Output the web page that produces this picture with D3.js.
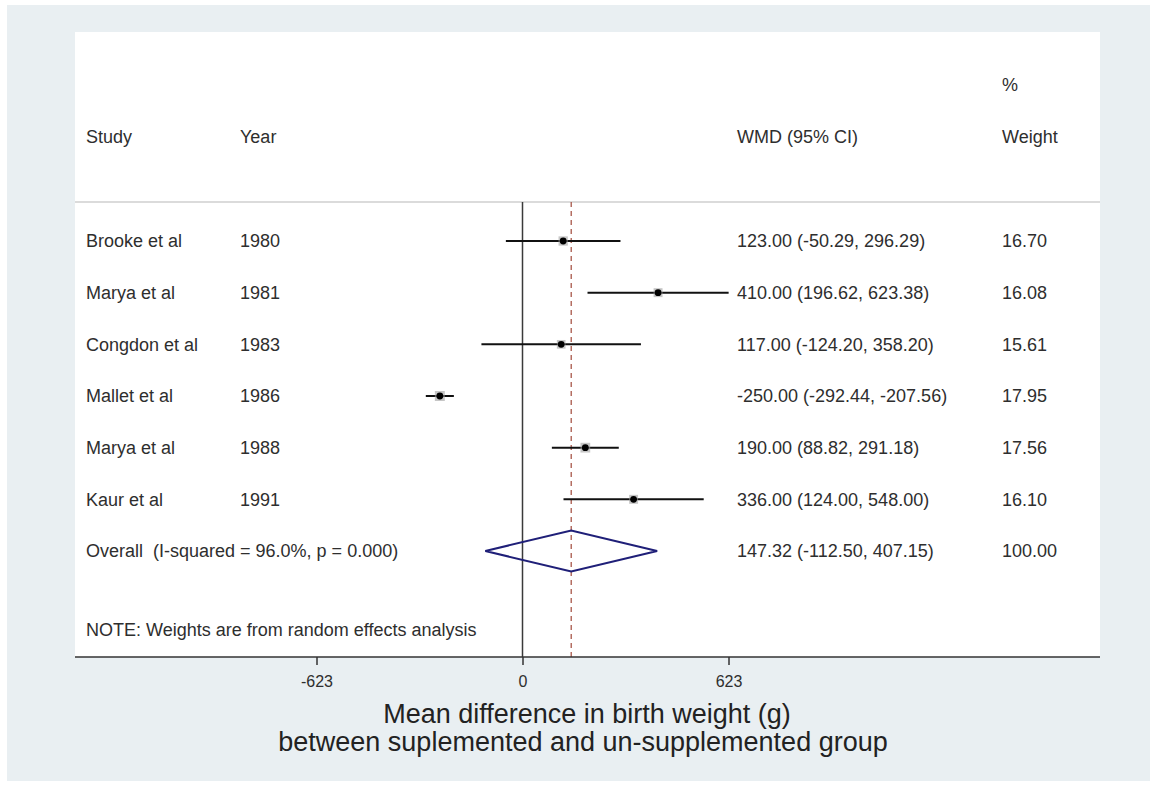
<!DOCTYPE html>
<html>
<head>
<meta charset="utf-8">
<script src="https://cdn.jsdelivr.net/npm/d3@7"></script>
<style>
  body { margin: 0; background: #ffffff; }
  text { font-family: "Liberation Sans", Arial, sans-serif; fill: #2e2e2e; white-space: pre; }
</style>
</head>
<body>
<svg id="forest"></svg>
<script>
// study data
var studies = ["Brooke et al", "Marya et al", "Congdon et al", "Mallet et al", "Marya et al", "Kaur et al"]
var years = ["1980", "1981", "1983", "1986", "1988", "1991"]
var wmd = [123.00, 410.00, 117.00, -250.00, 190.00, 336.00]
var lower = [-50.29, 196.62, -124.20, -292.44, 88.82, 124.00]
var upper = [296.29, 623.38, 358.20, -207.56, 291.18, 548.00]
var weights = [16.70, 16.08, 15.61, 17.95, 17.56, 16.10]

var overallLabel = "Overall  (I-squared = 96.0%, p = 0.000)"
var overall = { est: 147.32, lo: -112.50, hi: 407.15, weight: 100.00 }
var xTicks = [-623, 0, 623]

var dimensions = {
	width: 1157,
	height: 785,
	panel: { left: 75, right: 1100, top: 32, bottom: 657 }
}

var svg = d3.select("#forest")
	.attr("width", dimensions.width)
	.attr("height", dimensions.height)

// outer background
svg.append("rect")
	.attr("x", 7).attr("y", 5)
	.attr("width", 1143).attr("height", 776)
	.attr("fill", "#e9eff2")

// plot panel
var p = dimensions.panel
svg.append("rect")
	.attr("x", p.left).attr("y", p.top)
	.attr("width", p.right - p.left).attr("height", p.bottom - p.top)
	.attr("fill", "#ffffff")

var xScale = d3.scaleLinear()
	.domain([-623, 623])
	.range([316.5, 728.5])

var rowY = d3.scaleLinear()
	.domain([0, 6])
	.range([241, 551])

var cols = { study: 86, year: 240, ci: 737, weight: 1002 }
var fs = "18px"

// hyphen instead of unicode minus, like the original
var fmt = v => d3.format(".2f")(v).replace("\u2212", "-")

// header
svg.append("text").attr("x", cols.weight).attr("y", 85).attr("dy", "0.35em").style("font-size", fs).text("%")
var headers = [["Study", cols.study], ["Year", cols.year], ["WMD (95% CI)", cols.ci], ["Weight", cols.weight]]
svg.selectAll(".hdr")
	.data(headers)
	.enter()
	.append("text")
	.attr("x", d => d[1])
	.attr("y", 137)
	.attr("dy", "0.35em")
	.style("font-size", fs)
	.text(d => d[0])

// header separator
svg.append("line")
	.attr("x1", p.left).attr("x2", p.right)
	.attr("y1", 202).attr("y2", 202)
	.attr("stroke", "#b8b8b8").attr("stroke-width", 1.2)

// null line and overall line
svg.append("line")
	.attr("x1", xScale(0)).attr("x2", xScale(0))
	.attr("y1", 202).attr("y2", p.bottom)
	.attr("stroke", "#3a3a3a").attr("stroke-width", 1.5)

svg.append("line")
	.attr("x1", xScale(overall.est)).attr("x2", xScale(overall.est))
	.attr("y1", 202).attr("y2", p.bottom)
	.attr("stroke", "#a8574a").attr("stroke-width", 1.3)
	.attr("stroke-dasharray", "5,4")

var rows = studies.map(function (s, i) {
	return { study: s, year: years[i], est: wmd[i], lo: lower[i], hi: upper[i], w: weights[i] }
})

// CI lines
svg.selectAll(".ci")
	.data(rows)
	.enter()
	.append("line")
	.attr("x1", d => xScale(d.lo))
	.attr("x2", d => xScale(d.hi))
	.attr("y1", (d, i) => rowY(i))
	.attr("y2", (d, i) => rowY(i))
	.attr("stroke", "#111")
	.attr("stroke-width", 2)

// weight boxes (very small in the original)
svg.selectAll(".box")
	.data(rows)
	.enter()
	.append("rect")
	.attr("x", d => xScale(d.est) - d.w / 3.6)
	.attr("y", (d, i) => rowY(i) - d.w / 3.6)
	.attr("width", d => d.w / 1.8)
	.attr("height", d => d.w / 1.8)
	.attr("fill", "#a0a0a0")
	.attr("opacity", 0.6)

svg.selectAll(".pt")
	.data(rows)
	.enter()
	.append("circle")
	.attr("cx", d => xScale(d.est))
	.attr("cy", (d, i) => rowY(i))
	.attr("r", 3.4)
	.attr("fill", "#000")

// row text
var rowText = svg.selectAll(".row")
	.data(rows)
	.enter()
	.append("g")
	.attr("transform", (d, i) => "translate(0," + rowY(i) + ")")

rowText.append("text").attr("x", cols.study).attr("dy", "0.35em").style("font-size", fs).text(d => d.study)
rowText.append("text").attr("x", cols.year).attr("dy", "0.35em").style("font-size", fs).text(d => d.year)
rowText.append("text").attr("x", cols.ci).attr("dy", "0.35em").style("font-size", fs)
	.text(d => fmt(d.est) + " (" + fmt(d.lo) + ", " + fmt(d.hi) + ")")
rowText.append("text").attr("x", cols.weight).attr("dy", "0.35em").style("font-size", fs).text(d => fmt(d.w))

// overall diamond
var oy = rowY(6)
var diamond = [[overall.lo, 0], [overall.est, -20.5], [overall.hi, 0], [overall.est, 20.5]]
svg.append("path")
	.attr("d", "M" + diamond.map(d => xScale(d[0]) + "," + (oy + d[1])).join("L") + "Z")
	.attr("fill", "none")
	.attr("stroke", "#1f1f78")
	.attr("stroke-width", 2)

svg.append("text").attr("x", cols.study).attr("y", oy).attr("dy", "0.35em").style("font-size", fs).text(overallLabel)
svg.append("text").attr("x", cols.ci).attr("y", oy).attr("dy", "0.35em").style("font-size", fs)
	.text(fmt(overall.est) + " (" + fmt(overall.lo) + ", " + fmt(overall.hi) + ")")
svg.append("text").attr("x", cols.weight).attr("y", oy).attr("dy", "0.35em").style("font-size", fs).text(fmt(overall.weight))

svg.append("text").attr("x", cols.study).attr("y", 630).attr("dy", "0.35em").style("font-size", fs)
	.text("NOTE: Weights are from random effects analysis")

// x axis
svg.append("line")
	.attr("x1", p.left).attr("x2", p.right)
	.attr("y1", p.bottom).attr("y2", p.bottom)
	.attr("stroke", "#333").attr("stroke-width", 1.5)

var xAxisgen = d3.axisBottom(xScale)
	.tickValues(xTicks)
	.tickSize(8)
	.tickPadding(11)
	.tickFormat(d => String(d))

var xAxis = svg.append("g")
	.attr("transform", "translate(0," + p.bottom + ")")
	.call(xAxisgen)
xAxis.select(".domain").remove()
xAxis.selectAll("line").attr("stroke", "#333").attr("stroke-width", 1.5)
xAxis.selectAll("text")
	.style("font-family", "'Liberation Sans', Arial, sans-serif")
	.style("font-size", "16px")
	.attr("fill", "#2e2e2e")

svg.append("text")
	.attr("x", 587).attr("y", 714)
	.attr("text-anchor", "middle").attr("dy", "0.35em")
	.style("font-size", "27px").style("fill", "#222")
	.text("Mean difference in birth weight (g)")
svg.append("text")
	.attr("x", 583).attr("y", 742)
	.attr("text-anchor", "middle").attr("dy", "0.35em")
	.style("font-size", "27px").style("fill", "#222")
	.text("between suplemented and un-supplemented group")
</script>
</body>
</html>
